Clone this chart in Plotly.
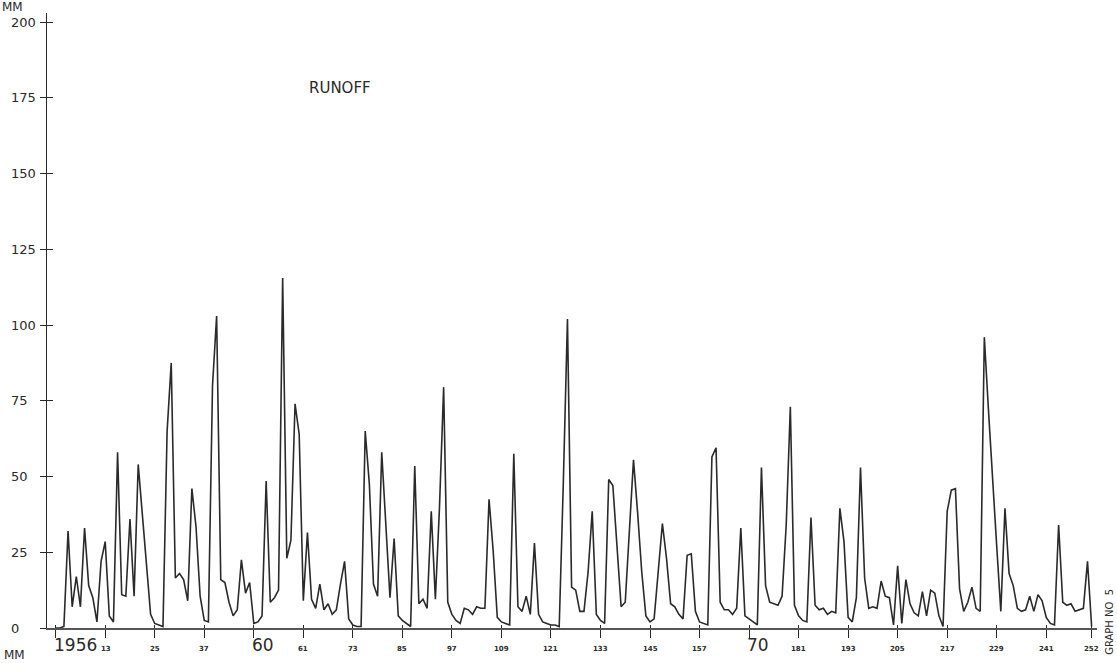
import plotly.graph_objects as go

# Monthly runoff (mm), 252 months starting January 1956
runoff_mm = [
    0, 0, 0.5, 32, 7, 17, 7, 33, 14, 10, 2, 22,
    28.5, 4, 2, 58, 11, 10.5, 36, 10.5, 54, 38, 22.5, 4.5,
    1.5, 1, 0.5, 65, 87.5, 16.5, 18, 16, 9, 46, 33.5, 10.5,
    2.5, 2, 80, 103, 16, 15, 8.5, 4, 6, 22.5, 11.5, 15,
    1.5, 2, 4, 48.5, 8.5, 10, 12.5, 115.5, 23, 29, 74, 64,
    9, 31.5, 9.5, 6.5, 14.5, 6, 8, 4.5, 6, 14.5, 22, 3,
    1, 0.5, 0.5, 65, 47.5, 14.5, 10.5, 58, 32, 10, 29.5, 4,
    2.5, 1.5, 0.5, 53.5, 8, 9.5, 6.5, 38.5, 9.5, 40, 79.5, 8.5,
    4.5, 2.5, 1.5, 6.5, 6, 4.5, 7, 6.5, 6.5, 42.5, 25.5, 3.5,
    2, 1.5, 1, 57.5, 7, 5.5, 10.5, 4.5, 28, 4.5, 2, 1.5,
    1, 1, 0.5, 48, 102, 13.5, 12.5, 5.5, 5.5, 18.5, 38.5, 4.5,
    2.5, 1.5, 49, 47, 25, 7, 8.5, 32.5, 55.5, 38, 18.5, 4,
    2, 3, 18.5, 34.5, 23, 8, 7, 4.5, 3, 24, 24.5, 5.5,
    2, 1.5, 1, 56.5, 59.5, 8.5, 6, 6, 4.5, 6.5, 33, 4,
    3, 2, 1, 53, 14, 8.5, 8, 7.5, 10.5, 34, 73, 7.5,
    4, 2.5, 2, 36.5, 7.5, 6, 6.5, 4.5, 5.5, 5, 39.5, 28.5,
    3.5, 2, 10, 53, 16.5, 6.5, 7, 6.5, 15.5, 10.5, 10, 1,
    20.5, 1.5, 16, 8, 5, 4, 12, 4, 12.5, 11.5, 4, 0.5,
    38.5, 45.5, 46, 13, 5.5, 8.5, 13.5, 6.5, 5.5, 96, 72, 48,
    27, 5.5, 39.5, 18, 14, 6.5, 5.5, 6, 10.5, 5.5, 11, 9,
    3.5, 1.5, 1, 34, 8.5, 7.5, 8, 5.5, 6, 6.5, 22, 0.5,
]
months = list(range(1, len(runoff_mm) + 1))

tick_months = [1, 13, 25, 37, 49, 61, 73, 85, 97, 109, 121, 133,
               145, 157, 169, 181, 193, 205, 217, 229, 241, 252]
tick_labels = ["1956", "13", "25", "37", "60", "61", "73", "85", "97", "109", "121", "133",
               "145", "157", "70", "181", "193", "205", "217", "229", "241", "252"]
year_labels = {"1956", "60", "70"}

y_ticks = [0, 25, 50, 75, 100, 125, 150, 175, 200]

INK = "#2a2a2a"
X_RANGE = [-1.1, 253.3]
Y_RANGE = [0, 203]

fig = go.Figure()
fig.add_trace(go.Scatter(
    x=months, y=runoff_mm, mode="lines",
    line=dict(color=INK, width=1.6), hoverinfo="skip", showlegend=False,
))
# companion trace carrying the inner halves of the cross-shaped ticks
fig.add_trace(go.Scatter(
    x=months, y=runoff_mm, mode="lines", xaxis="x2", yaxis="y2",
    line=dict(color="rgba(0,0,0,0)", width=0), hoverinfo="skip", showlegend=False,
))

axis_common = dict(showgrid=False, zeroline=False, showticklabels=False)
fig.update_layout(
    width=1117, height=663,
    margin=dict(l=47, r=20, t=13, b=34.5),
    paper_bgcolor="white", plot_bgcolor="white",
    font=dict(family="DejaVu Sans", color=INK),
    xaxis=dict(range=X_RANGE, tickmode="array", tickvals=tick_months,
               ticks="outside", ticklen=8, tickwidth=1.4, tickcolor=INK,
               showline=True, linecolor="#555555", linewidth=2, **axis_common),
    yaxis=dict(range=Y_RANGE, tickmode="array", tickvals=y_ticks,
               ticks="outside", ticklen=6, tickwidth=1.2, tickcolor=INK,
               showline=True, linecolor=INK, linewidth=1.4, **axis_common),
    xaxis2=dict(range=X_RANGE, overlaying="x", anchor="y2", side="bottom",
                tickmode="array", tickvals=tick_months, ticks="inside",
                ticklen=3, tickwidth=1.4, tickcolor=INK, showline=False, **axis_common),
    yaxis2=dict(range=Y_RANGE, overlaying="y", anchor="x2", side="left",
                tickmode="array", tickvals=y_ticks, ticks="inside",
                ticklen=6, tickwidth=1.2, tickcolor=INK, showline=False, **axis_common),
)

annotations = []
# y tick labels, left aligned in the margin
for v in y_ticks:
    annotations.append(dict(
        x=0, xref="paper", xshift=-38, xanchor="left",
        y=v, yref="y", yanchor="middle",
        text=str(v), showarrow=False, font=dict(size=13, color=INK),
    ))
# x tick labels: years in large type, month numbers in small type
for m, lab in zip(tick_months, tick_labels):
    if lab in year_labels:
        annotations.append(dict(
            x=m, xref="x", xshift=-4, xanchor="left",
            y=0, yref="paper", yshift=-17, yanchor="middle",
            text=lab, showarrow=False, font=dict(size=17, color=INK),
        ))
    else:
        annotations.append(dict(
            x=m, xref="x", xshift=1 if lab == "13" else 0, xanchor="center",
            y=0, yref="paper", yshift=-21, yanchor="middle",
            text="<b>" + lab + "</b>", showarrow=False, font=dict(size=7, color=INK),
        ))
# unit labels, title and graph number
annotations += [
    dict(x=0, xref="paper", xshift=-47, xanchor="left", y=1, yref="paper", yshift=6,
         yanchor="middle", text="MM", showarrow=False, font=dict(size=12, color=INK)),
    dict(x=0, xref="paper", xshift=-45, xanchor="left", y=0, yref="paper", yshift=-27,
         yanchor="middle", text="MM", showarrow=False, font=dict(size=12, color=INK)),
    dict(x=0.2476, xref="paper", xanchor="left", y=0.878, yref="paper", yanchor="middle",
         text="RUNOFF", showarrow=False, font=dict(size=15, color=INK)),
    dict(x=1.0124, xref="paper", xanchor="center", y=0.01, yref="paper", yanchor="middle",
         text="GRAPH NO  5", textangle=-90, showarrow=False, font=dict(size=10, color=INK)),
]
fig.update_layout(annotations=annotations)

fig.write_html("out.html")
